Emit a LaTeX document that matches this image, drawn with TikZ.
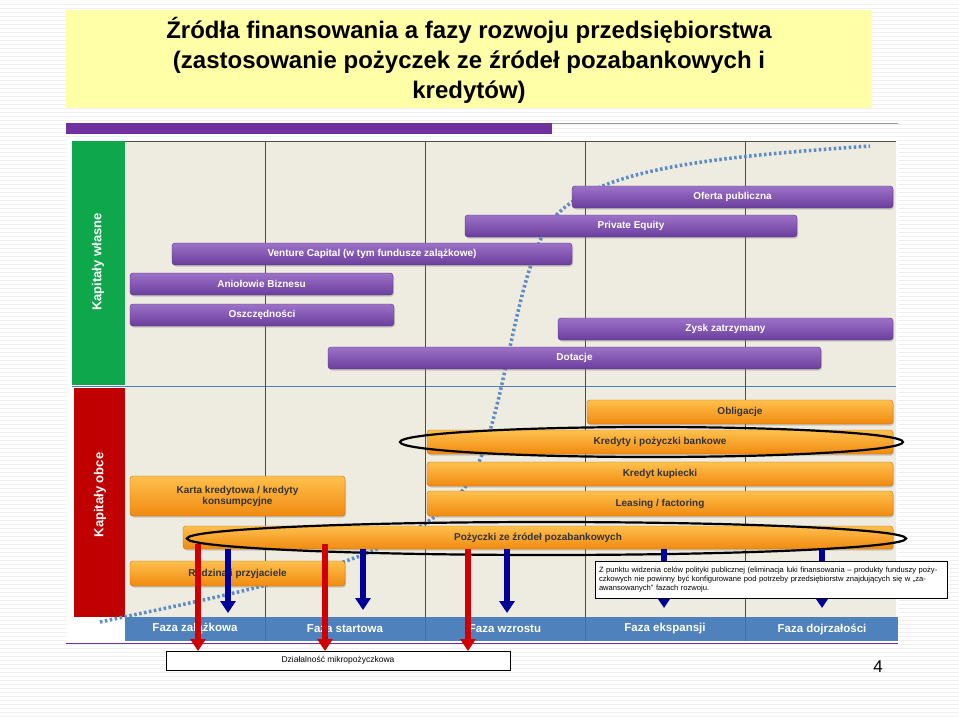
\documentclass[tikz,border=0pt]{standalone}
\usepackage{fontspec}
\setmainfont{Liberation Sans}
\usetikzlibrary{arrows.meta,shadows}
\definecolor{titlebg}{HTML}{FFFFA8}
\definecolor{purp}{HTML}{7030A0}
\definecolor{barpl}{HTML}{9D72C8}
\definecolor{barpd}{HTML}{6A3E9C}
\definecolor{baro1}{HTML}{FFC04D}
\definecolor{baro2}{HTML}{F08A10}
\definecolor{chartbg}{HTML}{EEEBE0}
\definecolor{kgreen}{HTML}{0FA74B}
\definecolor{kred}{HTML}{C00000}
\definecolor{phase}{HTML}{4F81BD}
\definecolor{dotc}{HTML}{5B8CC5}
\definecolor{arrblue}{HTML}{000099}
\definecolor{arrred}{HTML}{D00000}
\tikzset{
  pbar/.style={rounded corners=3pt,top color=barpl,bottom color=barpd,draw=barpd!80!black,line width=0.4pt,
    font=\fontsize{10}{11}\bfseries,text=white,drop shadow={opacity=0.35,shadow xshift=1pt,shadow yshift=-1.5pt}},
  obar/.style={rounded corners=3pt,top color=baro1,bottom color=baro2,draw=baro2!80!black,line width=0.4pt,
    font=\fontsize{10}{11}\bfseries,text=black!80,drop shadow={opacity=0.35,shadow xshift=1pt,shadow yshift=-1.5pt}},
  ring/.style={draw=black,line width=2.2pt},
  barrow/.style={arrblue,line width=6pt,-{Triangle[width=15pt,length=12pt]}},
  rarrow/.style={arrred,line width=6pt,-{Triangle[width=15pt,length=12pt]}},
  phasetxt/.style={font=\fontsize{11.5}{12}\bfseries,text=white},
  grid/.style={draw=black!70,line width=0.6pt},
}
\begin{document}
\begin{tikzpicture}[x=1pt,y=-1pt]
\useasboundingbox (0,0) rectangle (959,717);
\fill[white] (0,0) rectangle (959,717);
\foreach \yy in {4,8,...,716} \draw[black!6,line width=0.3pt] (0,\yy) -- (959,\yy);
% title
\node[fill=titlebg,minimum width=806pt,minimum height=98pt,inner sep=0pt] (title) at (469,59) {};
\node[font=\fontsize{24}{30}\bfseries,align=center] (tt) at (469,60) {Źródła finansowania a fazy rozwoju przedsiębiorstwa\\(zastosowanie pożyczek ze źródeł pozabankowych i\\kredytów)};
% top bar
\draw[black!40,line width=0.8pt] (66,123) -- (898,123);
\fill[purp] (66,123) rectangle (552,134);
% chart
\fill[white] (67,138) rectangle (898,642);
\fill[chartbg] (125,141) rectangle (896,617);
\fill[kgreen] (72,141) rectangle (125,385);
\fill[kred] (74,388) rectangle (125,617);
\draw[phase,line width=1pt] (72,386.5) -- (896,386.5);
\foreach \gx in {265,425,585,745} \draw[grid] (\gx,141) -- (\gx,617);
\draw[black!70,line width=0.8pt] (125,141) -- (896,141);
\fill[phase] (125,617) rectangle (898,641);
\foreach \gx in {265,425,585,745} \draw[black!60,line width=0.6pt] (\gx,617) -- (\gx,641);
\node[font=\fontsize{13}{14}\bfseries,text=white,rotate=90] (kw) at (98,262) {Kapitały własne};
\node[font=\fontsize{13}{14}\bfseries,text=white,rotate=90] (ko) at (100,495) {Kapitały obce};
% dotted curve
\draw[dotc,line width=3.5pt,dash pattern=on 2.5pt off 2.5pt]
  (100,622) .. controls (250,590) and (420,560) .. (470,480)
  .. controls (505,420) and (510,300) .. (545,230)
  .. controls (580,170) and (700,158) .. (870,146);
% purple bars
\node[pbar,minimum width=321pt,minimum height=22pt] (op) at (732.5,197) {Oferta publiczna};
\node[pbar,minimum width=332pt,minimum height=22pt] (pe) at (631,226) {Private Equity};
\node[pbar,minimum width=400pt,minimum height=22pt] (vc) at (372,254) {Venture Capital (w tym fundusze zalążkowe)};
\node[pbar,minimum width=263pt,minimum height=22pt] (ab) at (261.5,284) {Aniołowie Biznesu};
\node[pbar,minimum width=264pt,minimum height=22pt] (os) at (262,315) {Oszczędności};
\node[pbar,minimum width=335pt,minimum height=22pt] (zz) at (725.5,329) {Zysk zatrzymany};
\node[pbar,minimum width=493pt,minimum height=22pt] (dt) at (574.5,358) {Dotacje};
% orange bars
\node[obar,minimum width=306pt,minimum height=24pt] (ob) at (740,412) {Obligacje};
\node[obar,minimum width=466pt,minimum height=24pt] (kp) at (660,442) {Kredyty i pożyczki bankowe};
\node[obar,minimum width=466pt,minimum height=24pt] (kk) at (660,474) {Kredyt kupiecki};
\node[obar,minimum width=215pt,minimum height=40pt,align=center] (kr) at (237.5,496) {Karta kredytowa / kredyty\\konsumpcyjne};
\node[obar,minimum width=466pt,minimum height=25pt] (lf) at (660,503.5) {Leasing / factoring};
\node[obar,minimum width=710pt,minimum height=23pt] (pz) at (538,537.5) {Pożyczki ze źródeł pozabankowych};
\node[obar,minimum width=215pt,minimum height=25pt] (rp) at (237.5,573.5) {Rodzina i przyjaciele};
% ellipses
\draw[ring] (651.5,442) ellipse (251.5pt and 15pt);
\draw[ring] (546.5,538.5) ellipse (359.5pt and 16.5pt);
% blue arrows
\coordinate (b1) at (228,613); \coordinate (b2) at (363,610);
\coordinate (b3) at (507,613); \coordinate (b4) at (664,608); \coordinate (b5) at (822,608);
\draw[barrow] (pz.south -| b1) -- (b1);
\draw[barrow] (pz.south -| b2) -- (b2);
\draw[barrow] (pz.south -| b3) -- (b3);
\draw[barrow] (pz.south -| b4) -- (b4);
\draw[barrow] (pz.south -| b5) -- (b5);
% phase labels
\node[phasetxt] (f1) at (195,629) {Faza zalążkowa};
\node[phasetxt] (f2) at (345,629) {Faza startowa};
\node[phasetxt] (f3) at (505,629) {Faza wzrostu};
\node[phasetxt] (f4) at (665,629) {Faza ekspansji};
\node[phasetxt] (f5) at (822,629) {Faza dojrzałości};
% note
\node[draw=black,fill=white,line width=0.6pt,minimum width=352pt,minimum height=37pt,text width=344pt,align=left,
  font=\fontsize{7.6}{9.3}\selectfont,inner sep=3pt] (note) at (771,579.5)
  {Z punktu widzenia celów polityki publicznej (eliminacja luki finansowania – produkty funduszy pożyczkowych nie powinny być konfigurowane pod potrzeby przedsiębiorstw znajdujących się w „zaawansowanych” fazach rozwoju.};
% bottom line
\draw[purp,line width=1pt] (66,643) -- (898,643);
% box
\node[draw=black,fill=white,line width=0.6pt,minimum width=344pt,minimum height=19pt,inner sep=0pt,font=\fontsize{8.5}{10}\selectfont] (dm) at (338,660.5) {Działalność mikropożyczkowa};
% red arrows
\coordinate (r1) at (198,651); \coordinate (r2) at (325,651); \coordinate (r3) at (468,651);
\draw[rarrow] (pz.south -| r1) ++(0,-5) -- (r1);
\draw[rarrow] (pz.south -| r2) ++(0,-5) -- (r2);
\draw[rarrow] (pz.south -| r3) -- (r3);
\node[font=\fontsize{17}{18}\selectfont] (pg) at (878,667) {4};
\end{tikzpicture}
\end{document}
